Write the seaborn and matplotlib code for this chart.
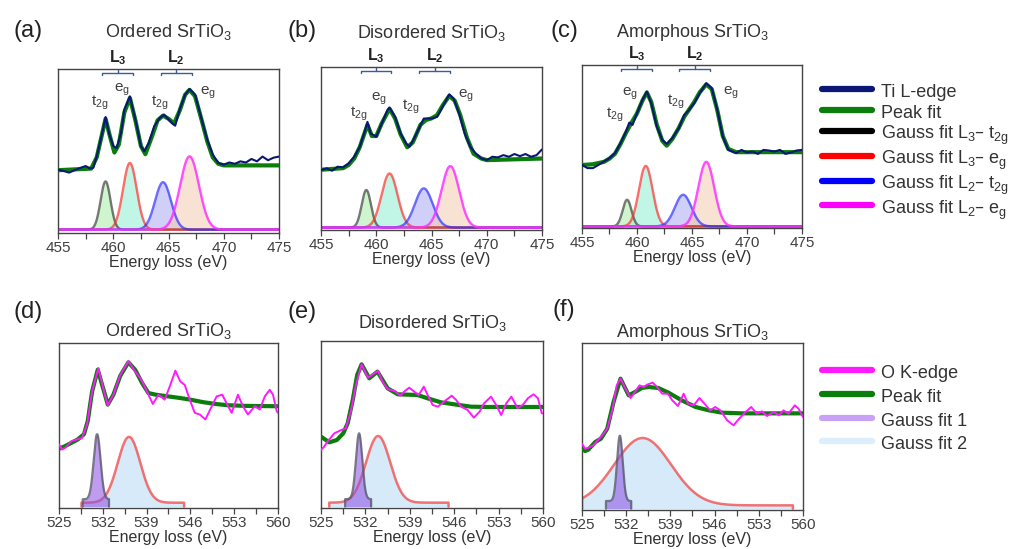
import numpy as np
import seaborn as sns
import matplotlib.pyplot as plt
import matplotlib.transforms as mtransforms
from matplotlib.lines import Line2D

# ---------------- Ti L-edge data (normalised intensity) ----------------
a_e = [455.0, 455.5, 456.0, 456.5, 457.0, 457.5, 457.9, 458.2, 458.5, 459.0,
       459.3, 459.6, 460.0, 460.3, 460.7, 461.0, 461.5, 462.0, 462.5, 462.8,
       463.2, 463.7, 464.2, 464.6, 465.3, 465.6, 466.0, 466.5, 466.9, 467.4,
       468.0, 468.5, 469.0, 469.5, 470.0, 470.5, 471.0, 471.5, 472.0, 472.5,
       473.0, 473.5, 474.0, 474.5, 475.0]
a_ti = [0.373, 0.365, 0.355, 0.370, 0.384, 0.396, 0.380, 0.386, 0.456, 0.602,
        0.701, 0.602, 0.519, 0.508, 0.602, 0.747, 0.830, 0.685, 0.519, 0.488,
        0.539, 0.643, 0.695, 0.716, 0.664, 0.647, 0.747, 0.840, 0.876, 0.840,
        0.685, 0.560, 0.467, 0.415, 0.405, 0.418, 0.410, 0.425, 0.418, 0.440,
        0.425, 0.455, 0.432, 0.448, 0.455]
a_fit_e = [455.0, 458.0, 458.5, 459.0, 459.3, 459.7, 460.1, 460.5, 461.0, 461.5,
           462.0, 462.5, 462.9, 463.5, 464.0, 464.5, 465.0, 465.5, 466.0, 466.5,
           466.9, 467.4, 468.0, 468.5, 469.0, 469.5, 470.0, 475.0]
a_fit = [0.370, 0.380, 0.450, 0.600, 0.690, 0.580, 0.480, 0.530, 0.730, 0.820,
         0.680, 0.520, 0.470, 0.580, 0.680, 0.710, 0.690, 0.660, 0.740, 0.840,
         0.870, 0.830, 0.680, 0.550, 0.450, 0.410, 0.400, 0.400]

b_e = [455.0, 455.5, 456.0, 456.5, 457.0, 457.5, 458.0, 458.5, 459.0, 459.2,
       459.5, 460.0, 460.5, 461.0, 461.2, 461.7, 462.2, 462.7, 463.0, 463.5,
       464.0, 464.3, 465.0, 465.5, 466.0, 466.6, 467.0, 467.5, 468.0, 468.5,
       469.0, 469.5, 470.0, 470.5, 471.0, 471.5, 472.0, 472.5, 473.0, 473.5,
       474.0, 474.5, 475.0]
b_ti = [0.358, 0.369, 0.354, 0.379, 0.375, 0.400, 0.441, 0.503, 0.607, 0.658,
        0.586, 0.565, 0.648, 0.731, 0.747, 0.689, 0.586, 0.524, 0.503, 0.565,
        0.638, 0.679, 0.679, 0.689, 0.752, 0.830, 0.803, 0.710, 0.586, 0.503,
        0.462, 0.431, 0.420, 0.441, 0.437, 0.451, 0.441, 0.458, 0.445, 0.458,
        0.441, 0.451, 0.487]
b_fit_e = [455.0, 457.0, 457.5, 458.0, 458.5, 459.0, 459.2, 459.6, 460.0, 460.5,
           461.2, 461.7, 462.2, 462.8, 463.3, 464.0, 464.5, 465.0, 465.5, 466.0,
           466.6, 467.1, 467.6, 468.2, 468.8, 469.5, 470.0, 475.0]
b_fit = [0.360, 0.370, 0.390, 0.430, 0.500, 0.600, 0.640, 0.570, 0.570, 0.650,
         0.740, 0.680, 0.580, 0.500, 0.530, 0.640, 0.670, 0.680, 0.700, 0.760,
         0.820, 0.790, 0.700, 0.560, 0.460, 0.430, 0.420, 0.430]

c_e = [455.0, 455.5, 456.0, 456.5, 457.0, 457.5, 458.0, 458.5, 459.0, 459.3,
       459.6, 460.0, 460.5, 460.9, 461.3, 461.8, 462.3, 462.7, 463.2, 463.8,
       464.3, 464.7, 465.2, 465.7, 466.3, 466.8, 467.3, 467.8, 468.3, 469.0,
       469.5, 470.0, 470.5, 471.0, 471.5, 472.0, 472.5, 473.0, 473.5, 474.0,
       474.5, 475.0]
c_ti = [0.381, 0.361, 0.361, 0.381, 0.402, 0.423, 0.454, 0.515, 0.588, 0.643,
        0.629, 0.701, 0.784, 0.835, 0.763, 0.619, 0.536, 0.511, 0.546, 0.608,
        0.691, 0.718, 0.763, 0.825, 0.887, 0.856, 0.722, 0.557, 0.474, 0.454,
        0.474, 0.458, 0.464, 0.449, 0.474, 0.470, 0.464, 0.474, 0.449, 0.458,
        0.470, 0.474]
c_fit_e = [455.0, 456.0, 457.0, 457.5, 458.0, 458.5, 459.0, 459.4, 460.0, 460.5,
           460.9, 461.3, 461.8, 462.3, 462.7, 463.2, 463.8, 464.3, 464.7, 465.2,
           465.7, 466.3, 466.8, 467.3, 467.8, 468.3, 469.0, 475.0]
c_fit = [0.380, 0.385, 0.400, 0.420, 0.450, 0.510, 0.580, 0.630, 0.700, 0.780,
         0.830, 0.770, 0.630, 0.530, 0.500, 0.540, 0.610, 0.680, 0.720, 0.770,
         0.830, 0.880, 0.850, 0.720, 0.560, 0.480, 0.460, 0.460]

# Gaussian components (L3-t2g, L3-eg, L2-t2g, L2-eg): centre, height, sigma
a_g_center = [459.3, 461.5, 464.5, 466.9]
a_g_height = [0.300, 0.415, 0.295, 0.456]
a_g_sigma = [0.45, 0.62, 0.72, 0.85]
b_g_center = [459.1, 461.2, 464.3, 466.7]
b_g_height = [0.234, 0.337, 0.244, 0.383]
b_g_sigma = [0.42, 0.72, 0.80, 0.80]
c_g_center = [459.1, 460.8, 464.2, 466.3]
c_g_height = [0.165, 0.375, 0.196, 0.400]
c_g_sigma = [0.40, 0.62, 0.75, 0.72]

# peak labels and L3/L2 bracket ranges
peak_labels = ["t$_{2g}$", "e$_g$", "t$_{2g}$", "e$_g$"]
a_lab_x = [458.8, 460.75, 464.2, 468.6]
a_lab_y = [0.79, 0.87, 0.79, 0.85]
b_lab_x = [458.4, 460.2, 463.1, 468.1]
b_lab_y = [0.71, 0.80, 0.75, 0.82]
c_lab_x = [458.0, 459.4, 463.5, 468.5]
c_lab_y = [0.69, 0.82, 0.77, 0.83]
a_l3 = [459.0, 461.76]
a_l2 = [464.3, 467.1]
b_l3 = [458.58, 461.36]
b_l2 = [463.88, 466.67]
c_l3 = [458.58, 461.36]
c_l2 = [463.85, 466.67]

# ---------------- O K-edge data ----------------
d_e = [525.0, 525.5, 526.0, 527.0, 528.0, 528.7, 529.5, 530.3, 531.3, 532.2,
       532.8, 533.7, 534.8, 536.1, 537.2, 538.0, 538.7, 539.3, 540.0, 540.9,
       541.9, 542.8, 543.6, 544.4, 545.1, 545.9, 546.7, 547.5, 548.4, 549.3,
       550.2, 551.1, 551.9, 552.6, 553.6, 554.4, 555.2, 556.3, 557.1, 557.9,
       558.7, 559.2, 559.8, 560.0]
d_o = [0.378, 0.347, 0.358, 0.398, 0.410, 0.418, 0.500, 0.700, 0.842, 0.700,
       0.616, 0.680, 0.800, 0.883, 0.820, 0.780, 0.730, 0.680, 0.624, 0.680,
       0.650, 0.740, 0.826, 0.760, 0.740, 0.650, 0.570, 0.560, 0.530, 0.600,
       0.670, 0.680, 0.620, 0.570, 0.680, 0.610, 0.560, 0.610, 0.590, 0.670,
       0.710, 0.680, 0.580, 0.570]
d_fit_e = [525.0, 526.0, 527.0, 528.0, 529.0, 529.6, 530.3, 531.2, 532.2, 532.8,
           533.7, 534.8, 536.1, 537.2, 538.3, 539.3, 540.5, 542.0, 544.0, 546.0,
           548.0, 550.0, 552.0, 555.0, 560.0]
d_fit = [0.352, 0.368, 0.388, 0.408, 0.440, 0.520, 0.700, 0.832, 0.700, 0.620,
         0.680, 0.795, 0.877, 0.830, 0.750, 0.690, 0.680, 0.672, 0.662, 0.650,
         0.635, 0.624, 0.616, 0.612, 0.610]

e_e = [525.0, 525.5, 526.0, 527.1, 528.2, 528.9, 529.7, 530.5, 531.4, 532.4,
       533.4, 534.0, 534.7, 535.5, 536.6, 537.5, 538.1, 538.9, 539.7, 540.4,
       541.2, 541.8, 542.6, 543.4, 544.4, 545.6, 546.3, 547.1, 548.1, 549.1,
       550.0, 550.7, 551.8, 552.6, 553.4, 554.2, 555.0, 556.0, 556.8, 557.6,
       558.5, 559.2, 559.8, 560.0]
e_o = [0.340, 0.360, 0.390, 0.440, 0.460, 0.470, 0.570, 0.730, 0.854, 0.774,
       0.800, 0.814, 0.750, 0.706, 0.694, 0.666, 0.690, 0.714, 0.690, 0.670,
       0.720, 0.670, 0.610, 0.600, 0.630, 0.666, 0.640, 0.600, 0.580, 0.534,
       0.570, 0.620, 0.660, 0.610, 0.550, 0.620, 0.660, 0.590, 0.610, 0.650,
       0.674, 0.650, 0.560, 0.560]
e_fit_e = [525.0, 526.3, 527.5, 528.5, 529.2, 530.0, 530.7, 531.4, 532.6, 533.9,
           534.7, 535.5, 537.1, 540.2, 541.8, 543.9, 546.0, 548.6, 551.3, 560.0]
e_fit = [0.420, 0.386, 0.400, 0.440, 0.500, 0.640, 0.790, 0.854, 0.770, 0.810,
         0.760, 0.710, 0.674, 0.670, 0.650, 0.626, 0.614, 0.600, 0.598, 0.598]

f_e = [525.0, 525.5, 526.0, 526.8, 528.2, 529.0, 529.8, 530.5, 531.1, 531.9,
       532.7, 533.4, 534.1, 534.8, 535.3, 536.2, 536.9, 537.7, 538.6, 539.3,
       540.2, 541.1, 541.8, 542.7, 543.6, 544.4, 545.3, 546.1, 546.9, 548.0,
       549.0, 549.8, 550.9, 551.8, 552.7, 553.5, 554.3, 555.4, 556.2, 556.9,
       557.7, 558.7, 559.3, 559.9, 560.0]
f_o = [0.390, 0.360, 0.366, 0.380, 0.440, 0.480, 0.590, 0.740, 0.780, 0.720,
       0.664, 0.700, 0.740, 0.730, 0.744, 0.756, 0.730, 0.690, 0.690, 0.650,
       0.616, 0.690, 0.630, 0.620, 0.664, 0.630, 0.590, 0.610, 0.590, 0.530,
       0.500, 0.536, 0.580, 0.610, 0.570, 0.584, 0.556, 0.580, 0.560, 0.590,
       0.570, 0.620, 0.600, 0.556, 0.550]
f_fit_e = [525.0, 525.5, 526.0, 527.1, 528.0, 529.0, 530.0, 531.1, 532.4, 533.4,
           534.5, 535.6, 537.1, 538.7, 540.8, 543.0, 545.1, 547.2, 550.3, 560.0]
f_fit = [0.360, 0.346, 0.354, 0.400, 0.420, 0.480, 0.640, 0.780, 0.680, 0.700,
         0.725, 0.730, 0.724, 0.696, 0.650, 0.610, 0.590, 0.576, 0.572, 0.572]

# Gauss fit 1 / 2 for panels d, e, f: centre, height, offset, sigma, start, end
g1_center = [531.1, 531.0, 531.0]
g1_height = [0.395, 0.395, 0.392]
g1_offset = [0.045, 0.045, 0.046]
g1_sigma = [0.55, 0.50, 0.45]
g1_start = [528.8, 528.8, 528.8]
g1_end = [533.0, 532.9, 532.8]
g2_center = [536.2, 534.0, 534.6]
g2_height = [0.400, 0.400, 0.404]
g2_offset = [0.024, 0.024, 0.020]
g2_sigma = [1.8, 1.9, 4.5]
g2_start = [528.6, 526.3, 525.0]
g2_end = [545.0, 545.1, 558.4]

titles = ["Ordered SrTiO$_3$", "Disordered SrTiO$_3$", "Amorphous SrTiO$_3$"]

# ---------------- style ----------------
sns.set_style("ticks")
plt.rcParams["font.family"] = ["Liberation Sans", "DejaVu Sans"]
plt.rcParams["mathtext.default"] = "regular"

NAVY = "#0b1775"
GREEN = "#0a7d0a"
MAG = "#ff19ff"
TXT = "#333333"
g_line = ["#404040", "#ff3030", "#3030ff", "#ff30ff"]
g_fill = ["#a6eea6", "#8ff0d2", "#a8a8f2", "#f2cbb0"]


def gauss(x, c, h, s):
    return h * np.exp(-0.5 * ((x - c) / s) ** 2)


def style_axis(ax, ticks, minor):
    for sp in ax.spines.values():
        sp.set_color("#444444")
        sp.set_linewidth(1.0)
    ax.set_yticks([])
    ax.set_xticks(ticks)
    ax.set_xticks(minor, minor=True)
    ax.tick_params(axis="x", which="both", direction="out", length=4, width=0.9,
                   color="#444444", labelsize=11, labelcolor="#404040", pad=2)
    ax.set_xlabel("Energy loss (eV)", fontsize=11.5, color=TXT, labelpad=0)


fig = plt.figure(figsize=(10.13, 5.49), dpi=100)

ti_pos = [[0.0573, 0.5756, 0.2182, 0.2987],
          [0.3169, 0.5811, 0.2182, 0.2969],
          [0.5745, 0.5847, 0.2172, 0.2969]]
o_pos = [[0.0582, 0.0747, 0.2162, 0.3005],
         [0.3169, 0.0747, 0.2192, 0.3042],
         [0.5745, 0.0710, 0.2182, 0.3042]]

ti_sets = [(a_e, a_ti, a_fit_e, a_fit, a_g_center, a_g_height, a_g_sigma,
            a_lab_x, a_lab_y, a_l3, a_l2),
           (b_e, b_ti, b_fit_e, b_fit, b_g_center, b_g_height, b_g_sigma,
            b_lab_x, b_lab_y, b_l3, b_l2),
           (c_e, c_ti, c_fit_e, c_fit, c_g_center, c_g_height, c_g_sigma,
            c_lab_x, c_lab_y, c_l3, c_l2)]
ti_ybot = [-0.021, -0.015, -0.010]
ti_pads = [23, 21, 20]

xg = np.linspace(455, 475, 801)
for i, (e, y, fe, fy, gc, gh, gs, lx, ly, l3, l2) in enumerate(ti_sets):
    ax = fig.add_axes(ti_pos[i])
    for k in range(4):
        gy = gauss(xg, gc[k], gh[k], gs[k])
        ax.fill_between(xg, 0, gy, color=g_fill[k], alpha=0.55, lw=0, zorder=1)
    for k in range(4):
        gy = gauss(xg, gc[k], gh[k], gs[k])
        sns.lineplot(x=xg, y=gy, ax=ax, color=g_line[k], lw=1.7,
                     alpha=0.85 if k == 3 else 0.7, estimator=None, sort=False,
                     legend=False, zorder=2)
    sns.lineplot(x=fe, y=fy, ax=ax, color=GREEN, lw=3.0, estimator=None,
                 sort=False, legend=False, zorder=3)
    sns.lineplot(x=e, y=y, ax=ax, color=NAVY, lw=1.5, estimator=None,
                 sort=False, legend=False, zorder=4)
    ax.set_xlim(455, 475)
    ax.set_ylim(ti_ybot[i], 1.0)
    style_axis(ax, [455, 460, 465, 470, 475], [457.5, 462.5, 467.5, 472.5])
    ax.set_ylabel("")
    ax.set_title(titles[i], fontsize=13, color=TXT, pad=ti_pads[i])
    for k in range(4):
        ax.text(lx[k], ly[k], peak_labels[k], fontsize=11, color="#404040",
                ha="center", va="center", zorder=5)
    trans = mtransforms.blended_transform_factory(ax.transData, ax.transAxes)
    for rng, name in ((l3, "L$_3$"), (l2, "L$_2$")):
        mid = 0.5 * (rng[0] + rng[1])
        ax.plot([rng[0], rng[0], rng[1], rng[1]], [0.962, 0.975, 0.975, 0.962],
                color="#3d5a9e", lw=1.0, transform=trans, clip_on=False)
        ax.plot([mid, mid], [0.975, 0.995], color="#3d5a9e", lw=1.0,
                transform=trans, clip_on=False)
        ax.text(mid, 1.068, name, fontsize=11.5, fontweight="bold", color="#222222",
                ha="center", va="center", transform=trans)

o_sets = [(d_e, d_o, d_fit_e, d_fit), (e_e, e_o, e_fit_e, e_fit),
          (f_e, f_o, f_fit_e, f_fit)]
o_pads = [5, 9, 4]
for i, (e, y, fe, fy) in enumerate(o_sets):
    ax = fig.add_axes(o_pos[i])
    # Gauss fit 2 (broad)
    x2 = np.linspace(g2_start[i], g2_end[i], 400)
    y2 = g2_offset[i] + gauss(x2, g2_center[i], g2_height[i], g2_sigma[i])
    ax.fill_between(x2, 0, y2, color="#cfe7f8", alpha=0.85, lw=0, zorder=1)
    sns.lineplot(x=np.r_[x2[0], x2, x2[-1]], y=np.r_[0, y2, 0], ax=ax,
                 color="#f05a5a", alpha=0.85, lw=1.8, estimator=None, sort=False,
                 legend=False, zorder=2)
    # Gauss fit 1 (narrow)
    x1 = np.linspace(g1_start[i], g1_end[i], 200)
    y1 = g1_offset[i] + gauss(x1, g1_center[i], g1_height[i], g1_sigma[i])
    ax.fill_between(x1, 0, y1, color="#8a4de6", alpha=0.55, lw=0, zorder=3)
    sns.lineplot(x=np.r_[x1[0], x1, x1[-1]], y=np.r_[0, y1, 0], ax=ax,
                 color="#5a5a6a", alpha=0.8, lw=1.6, estimator=None, sort=False,
                 legend=False, zorder=4)
    sns.lineplot(x=fe, y=fy, ax=ax, color=GREEN, lw=3.0, estimator=None,
                 sort=False, legend=False, zorder=5)
    sns.lineplot(x=e, y=y, ax=ax, color=MAG, lw=1.4, estimator=None,
                 sort=False, legend=False, zorder=6)
    ax.set_xlim(525, 560)
    ax.set_ylim(-0.008, 0.994)
    style_axis(ax, [525, 532, 539, 546, 553, 560],
               [528.5, 535.5, 542.5, 549.5, 556.5])
    ax.set_ylabel("")
    ax.set_title(titles[i], fontsize=13, color=TXT, pad=o_pads[i])

# panel letters
for lab, x, y in [("(a)", 28, 31), ("(b)", 302, 31), ("(c)", 564, 31),
                  ("(d)", 28, 312), ("(e)", 302, 312), ("(f)", 564, 310)]:
    fig.text(x / 1013, 1 - y / 549, lab, fontsize=17, color="#222222",
             ha="center", va="center")

# legends
leg1 = [Line2D([], [], color=NAVY, lw=4.5, label="Ti L-edge"),
        Line2D([], [], color=GREEN, lw=4.5, label="Peak fit"),
        Line2D([], [], color="black", lw=4.5, label="Gauss fit L$_3$– t$_{2g}$"),
        Line2D([], [], color="red", lw=4.5, label="Gauss fit L$_3$– e$_g$"),
        Line2D([], [], color="blue", lw=4.5, label="Gauss fit L$_2$– t$_{2g}$"),
        Line2D([], [], color="magenta", lw=4.5, label="Gauss fit L$_2$– e$_g$")]
fig.legend(handles=leg1, loc="upper left", bbox_to_anchor=(0.811, 0.853),
           frameon=False, fontsize=13, handlelength=2.8, handletextpad=0.5,
           handleheight=1.33, labelspacing=0.05, borderpad=0, borderaxespad=0,
           labelcolor=TXT)

leg2 = [Line2D([], [], color=MAG, lw=4.5, label="O K-edge"),
        Line2D([], [], color=GREEN, lw=4.5, label="Peak fit"),
        Line2D([], [], color="#c9a2f7", lw=4.5, label="Gauss fit 1"),
        Line2D([], [], color="#dcedfb", lw=4.5, label="Gauss fit 2")]
fig.legend(handles=leg2, loc="upper left", bbox_to_anchor=(0.811, 0.340),
           frameon=False, fontsize=13, handlelength=2.8, handletextpad=0.5,
           handleheight=1.33, labelspacing=0.2, borderpad=0, borderaxespad=0,
           labelcolor=TXT)

fig.savefig("out.png", dpi=100)
